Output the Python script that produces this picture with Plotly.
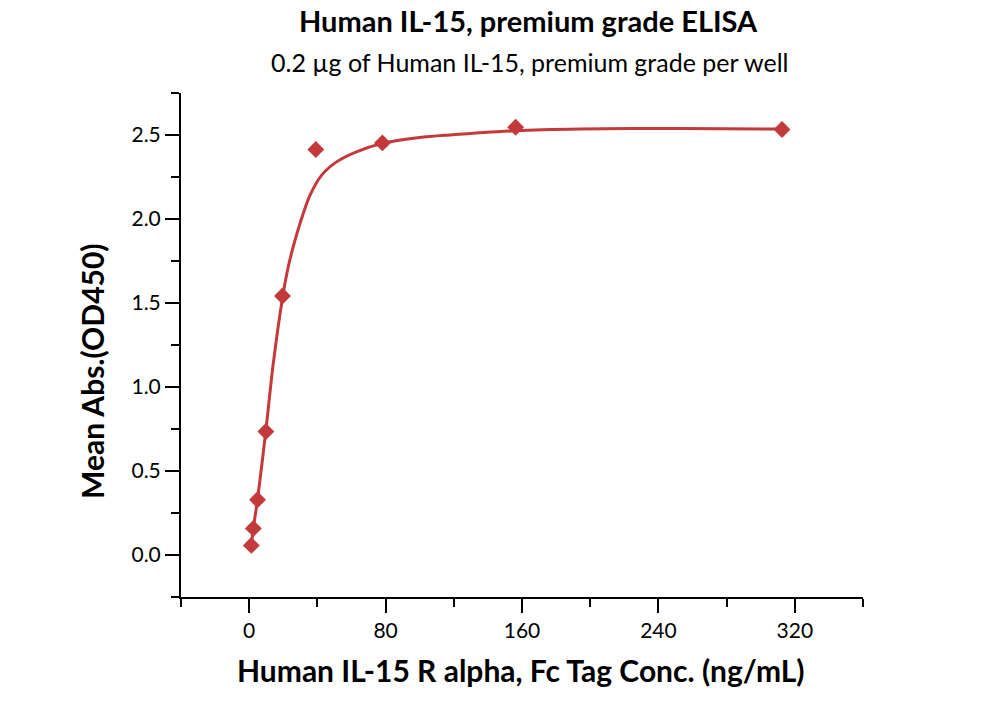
import plotly.graph_objects as go

# measured points
conc = [1.22, 2.44, 4.88, 9.77, 19.53, 39.06, 78.13, 156.25, 312.5]
od450 = [0.057, 0.158, 0.329, 0.735, 1.542, 2.414, 2.453, 2.546, 2.533]

# fitted curve
curve_x = [1.22, 2.44, 4.88, 9.77, 14.0, 19.53, 23.0, 26.5, 30.0, 35.6, 42.4,
           51.2, 62.9, 78.1, 100.0, 117.6, 156.25, 194.0, 252.0, 312.5]
curve_y = [0.055, 0.16, 0.33, 0.74, 1.13, 1.53, 1.72, 1.86, 1.98, 2.14, 2.26,
           2.34, 2.40, 2.45, 2.485, 2.50, 2.525, 2.535, 2.539, 2.535]

x_ticks = [0, 80, 160, 240, 320]
y_ticks = [0.0, 0.5, 1.0, 1.5, 2.0, 2.5]

title = "Human IL-15, premium grade ELISA"
subtitle = "0.2 µg of Human IL-15, premium grade per well"
x_title = "Human IL-15 R alpha, Fc Tag Conc. (ng/mL)"
y_title = "Mean Abs.(OD450)"

RED = "#C4393A"
FONT = "Lato"

fig = go.Figure()
fig.add_trace(go.Scatter(x=curve_x, y=curve_y, mode="lines",
                         line=dict(color=RED, width=3, shape="spline", smoothing=0.8),
                         hoverinfo="skip", showlegend=False))
fig.add_trace(go.Scatter(x=conc, y=od450, mode="markers",
                         marker=dict(symbol="diamond", size=13, color=RED),
                         showlegend=False))

axis_common = dict(showgrid=False, zeroline=False, showline=True, linecolor="black",
                   linewidth=2, ticks="outside", ticklen=14, tickwidth=2, tickcolor="black",
                   tickfont=dict(family=FONT, size=21, color="black"))

fig.update_xaxes(range=[-40, 360], tickvals=x_ticks,
                 ticktext=[str(v) for v in x_ticks],
                 minor=dict(tickvals=[-40, 40, 120, 200, 280, 360], ticklen=8,
                            tickwidth=2, tickcolor="black", ticks="outside"),
                 **axis_common)
fig.update_yaxes(range=[-0.25, 2.75], tickvals=y_ticks,
                 ticktext=[f"{v:.1f}" for v in y_ticks],
                 minor=dict(tickvals=[-0.25, 0.25, 0.75, 1.25, 1.75, 2.25, 2.75], ticklen=8,
                            tickwidth=2, tickcolor="black", ticks="outside"),
                 **axis_common)

fig.update_layout(
    width=1000, height=702,
    margin=dict(l=181, r=137, t=93, b=105),
    paper_bgcolor="white", plot_bgcolor="white",
    font=dict(family=FONT, color="black"),
    annotations=[
        dict(text=f"<b>{title}</b>", x=528, y=20, showarrow=False, font=dict(size=29, family=FONT)),
        dict(text=subtitle, x=529, y=62, showarrow=False, font=dict(size=25, family=FONT)),
        dict(text=f"<b>{x_title}</b>", x=521, y=670, showarrow=False, font=dict(size=30, family=FONT)),
        dict(text=f"<b>{y_title}</b>", x=92, y=371, showarrow=False, textangle=-90,
             font=dict(size=30, family=FONT)),
    ],
)

# convert pixel positions of annotations into paper coordinates
pw = 1000 - 181 - 137
ph = 702 - 93 - 105
new_ann = []
for a in fig.layout.annotations:
    px, py = a.x, a.y
    a.x = (px - 181) / pw
    a.y = 1 - (py - 93) / ph
    a.xref = "paper"
    a.yref = "paper"
    a.xanchor = "center"
    a.yanchor = "middle"
    new_ann.append(a)
fig.layout.annotations = new_ann

fig.write_html("out.html")
